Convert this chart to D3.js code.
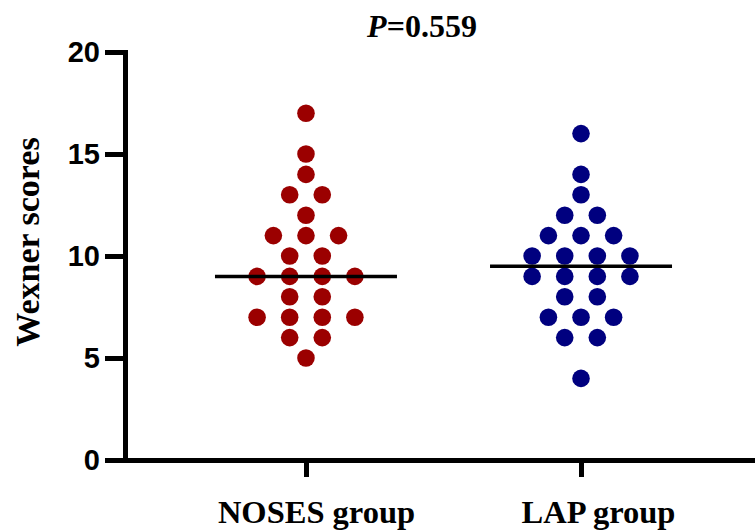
<!DOCTYPE html>
<html>
<head>
<meta charset="utf-8">
<title>Wexner scores</title>
<script src="https://d3js.org/d3.v7.min.js"></script>
<style>
  body { margin: 0; background: #fff; }
  svg { display: block; }
</style>
</head>
<body>
<svg id="chart" width="755" height="530"></svg>
<script>
// data
const groups = ["NOSES group", "LAP group"];
const nosesScores = [17, 15, 14, 13, 13, 12, 11, 11, 11, 10, 10, 9, 9, 9, 9, 8, 8, 7, 7, 7, 7, 6, 6, 5];
const lapScores = [16, 14, 13, 12, 12, 11, 11, 11, 10, 10, 10, 10, 9, 9, 9, 9, 8, 8, 7, 7, 7, 6, 6, 4];
const groupColors = ["#9b0000", "#00007f"];
const yTicks = [0, 5, 10, 15, 20];
const pLabel = "0.559";

const svg = d3.select("#chart");

const y = d3.scaleLinear().domain([0, 20]).range([460, 52]);
const x = d3.scalePoint().domain(groups).range([125, 762]).padding(0.658);

const dotR = 8.8;
const dotGap = 32.6;   // horizontal distance between dots in the same row
const medianHalf = 91;
const labelShift = [10, 17]; // group labels sit a little right of their ticks

// y axis
const yAxis = svg.append("g")
    .attr("transform", "translate(125,0)")
    .call(d3.axisLeft(y).tickValues(yTicks).tickSize(20).tickSizeOuter(0).tickPadding(5));
yAxis.select(".domain").attr("stroke-width", 5).attr("stroke-linecap", "square");
yAxis.selectAll(".tick line").attr("stroke-width", 5);
yAxis.selectAll(".tick text")
    .attr("font-family", "'Liberation Sans', Arial, sans-serif")
    .attr("font-weight", "bold")
    .attr("font-size", 29)
    .attr("fill", "#000");

// x axis
const xAxis = svg.append("g")
    .attr("transform", "translate(0,460)")
    .call(d3.axisBottom(x).tickSize(17).tickSizeOuter(0).tickPadding(23));
xAxis.select(".domain").attr("stroke-width", 5).attr("stroke-linecap", "square");
xAxis.selectAll(".tick line").attr("stroke-width", 5);
xAxis.selectAll(".tick text")
    .attr("dx", (d, i) => labelShift[i])
    .attr("font-family", "'Liberation Serif', 'Times New Roman', serif")
    .attr("font-weight", "bold")
    .attr("font-size", 32.5)
    .attr("fill", "#000");

// dots, spread horizontally within each score row
const series = [nosesScores, lapScores];
series.forEach((scores, gi) => {
  const counts = d3.rollup(scores, v => v.length, d => d);
  const seen = new Map();
  const pts = scores.map(s => {
    const i = seen.get(s) || 0;
    seen.set(s, i + 1);
    const n = counts.get(s);
    return { v: s, dx: (i - (n - 1) / 2) * dotGap };
  });
  const cx = x(groups[gi]);
  svg.append("g").selectAll("circle")
    .data(pts)
    .join("circle")
    .attr("cx", d => cx + d.dx)
    .attr("cy", d => y(d.v))
    .attr("r", dotR)
    .attr("fill", groupColors[gi]);

  const med = d3.median(scores);
  svg.append("line")
    .attr("x1", cx - medianHalf)
    .attr("x2", cx + medianHalf)
    .attr("y1", y(med))
    .attr("y2", y(med))
    .attr("stroke", "#000")
    .attr("stroke-width", 3.5);
});

// y label
svg.append("text")
    .attr("transform", "translate(39,242) rotate(-90)")
    .attr("text-anchor", "middle")
    .attr("font-family", "'Liberation Serif', 'Times New Roman', serif")
    .attr("font-weight", "bold")
    .attr("font-size", 34)
    .text("Wexner scores");

// p value
const title = svg.append("text")
    .attr("x", 422)
    .attr("y", 37)
    .attr("text-anchor", "middle")
    .attr("font-family", "'Liberation Serif', 'Times New Roman', serif")
    .attr("font-weight", "bold")
    .attr("font-size", 32);
title.append("tspan").attr("font-style", "italic").text("P");
title.append("tspan").text("=" + pLabel);
</script>
</body>
</html>
